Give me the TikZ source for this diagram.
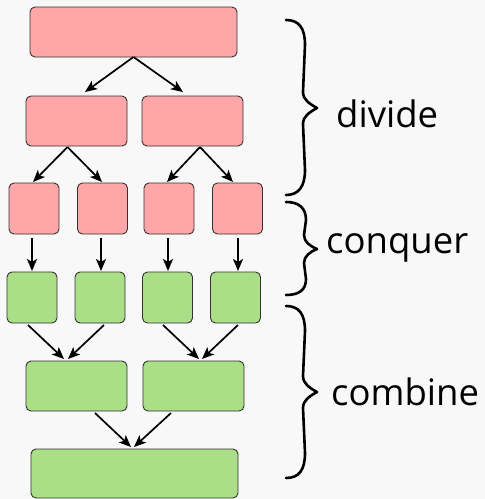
\documentclass[tikz,border=0pt]{standalone}
\usepackage{fontspec}
\setmainfont{Open Sans}
\usetikzlibrary{arrows.meta}
\definecolor{pagebg}{HTML}{F8F8F8}
\definecolor{splitfill}{HTML}{FFA6A9}
\definecolor{mergefill}{HTML}{AADF88}
\definecolor{boxline}{HTML}{333333}
\tikzset{
  blk/.style={draw=boxline, line width=0.9pt, rounded corners=5pt, inner sep=0pt, outer sep=0pt},
  splitbox/.style={blk, fill=splitfill},
  mergebox/.style={blk, fill=mergefill},
  wide/.style={minimum width=207pt, minimum height=50pt},
  half/.style={minimum width=101pt, minimum height=50pt},
  leaf/.style={minimum width=50pt, minimum height=51pt},
  flow/.style={line width=1.7pt, -{Stealth[length=12pt, width=10pt, inset=3pt]}},
  bracepath/.style={line width=2.6pt, line cap=round, line join=round},
  phase/.style={anchor=base west, inner sep=0pt, font=\fontsize{36.5}{40}\selectfont}
}
\begin{document}
\begin{tikzpicture}[x=1pt, y=-1pt]
\fill[pagebg] (0,0) rectangle (485,499);
\useasboundingbox (0,0) rectangle (485,499);

% divide phase
\node[splitbox, wide] (a) at (133.5,32) {};
\node[splitbox, half] (b1) at (76.5,121) {};
\node[splitbox, half] (b2) at (192.5,121) {};
\node[splitbox, leaf] (c1) at (34,208.5) {};
\node[splitbox, leaf] (c2) at (102.5,208.5) {};
\node[splitbox, leaf] (c3) at (169,208.5) {};
\node[splitbox, leaf] (c4) at (237.5,208.5) {};

% conquered pieces
\node[mergebox, leaf] (d1) at (32,297.5) {};
\node[mergebox, leaf] (d2) at (100,297.5) {};
\node[mergebox, leaf] (d3) at (167.5,297.5) {};
\node[mergebox, leaf] (d4) at (235.5,297.5) {};

% combine phase
\node[mergebox, half] (e1) at (76.5,386) {};
\node[mergebox, half] (e2) at (193.5,386) {};
\node[mergebox, wide, minimum height=49pt] (f) at (134.5,473.5) {};

% arrows
\draw[flow] (a.south) -- ([xshift=8.5pt,yshift=4pt]b1.north);
\draw[flow] (a.south) -- ([xshift=-9.5pt,yshift=4pt]b2.north);

\draw[flow] ([xshift=-9pt,yshift=-1pt]b1.south) -- ([xshift=-1pt,yshift=1pt]c1.north);
\draw[flow] ([xshift=-9pt,yshift=-1pt]b1.south) -- ([xshift=-0.5pt,yshift=1pt]c2.north);
\draw[flow] ([xshift=7.5pt,yshift=-1pt]b2.south) -- ([xshift=-2pt,yshift=1pt]c3.north);
\draw[flow] ([xshift=7.5pt,yshift=-1pt]b2.south) -- ([xshift=-4.5pt,yshift=1pt]c4.north);

\draw[flow] ([xshift=-2pt,yshift=-4pt]c1.south) -- ([yshift=1pt]d1.north);
\draw[flow] ([xshift=-1.5pt,yshift=-4pt]c2.south) -- ([xshift=1pt,yshift=1pt]d2.north);
\draw[flow] ([xshift=-1pt,yshift=-4pt]c3.south) -- ([xshift=0.5pt,yshift=1pt]d3.north);
\draw[flow] ([xshift=0.5pt,yshift=-4pt]c4.south) -- ([xshift=2.5pt,yshift=1pt]d4.north);

\draw[flow] ([xshift=-4pt,yshift=-2pt]d1.south) -- ([xshift=-12.5pt,yshift=2pt]e1.north);
\draw[flow] ([xshift=4pt,yshift=-2pt]d2.south) -- ([xshift=-8.5pt,yshift=2pt]e1.north);
\draw[flow] ([xshift=-4.5pt,yshift=-2pt]d3.south) -- ([xshift=5.5pt,yshift=2pt]e2.north);
\draw[flow] ([xshift=2.5pt,yshift=-2pt]d4.south) -- ([xshift=8.5pt,yshift=2pt]e2.north);

\draw[flow] ([xshift=18.5pt,yshift=-2pt]e1.south) -- ([xshift=-3.5pt,yshift=2pt]f.north);
\draw[flow] ([xshift=-22.5pt,yshift=-2pt]e2.south) -- ([xshift=-0.5pt,yshift=2pt]f.north);

% braces
\draw[bracepath] (286,20) .. controls (299,20) and (305,28) .. (305,45)
  -- (303,92) .. controls (303,100) and (310,104) .. (317,108)
  .. controls (310,112) and (303,116) .. (303,124)
  -- (305,170) .. controls (305,186) and (299,195) .. (286,195);
\draw[bracepath] (286,202) .. controls (299,202) and (306,208) .. (306,220)
  -- (304,235) .. controls (304,242) and (310,246) .. (317,249)
  .. controls (310,252) and (304,256) .. (304,263)
  -- (306,279) .. controls (306,290) and (299,295) .. (286,295);
\draw[bracepath] (286,306) .. controls (299,306) and (305,314) .. (305,331)
  -- (303,376) .. controls (303,384) and (310,388) .. (317,392)
  .. controls (310,396) and (303,400) .. (303,408)
  -- (305,453) .. controls (305,470) and (299,478) .. (286,478);

% phase labels
\node[phase] (ldiv) at (336,127) {divide};
\node[phase] (lcon) at (326,253) {conquer};
\node[phase] (lcom) at (331,405) {combine};
\end{tikzpicture}
\end{document}
